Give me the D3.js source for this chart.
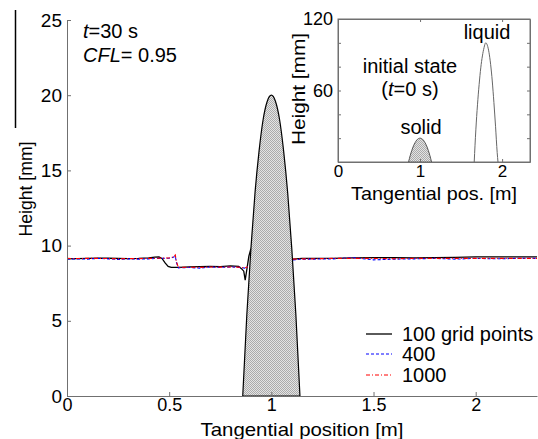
<!DOCTYPE html>
<html>
<head>
<meta charset="utf-8">
<script src="https://cdn.jsdelivr.net/npm/d3@7"></script>
<style>
  body { margin: 0; background: #fff; }
  svg { display: block; font-family: "Liberation Sans", Arial, sans-serif; }
  .axis path, .axis line { stroke: #707070; }
  .axis text { fill: #000; }
</style>
</head>
<body>
<div id="chart"></div>
<script>
// ---- data ----
var xTicks = [0, 0.5, 1, 1.5, 2];
var yTicks = [0, 5, 10, 15, 20, 25];

// free surface height [mm], left of the solid
var xLeft100 = [0, 0.05, 0.1, 0.15, 0.2, 0.25, 0.3, 0.35, 0.4, 0.43, 0.45, 0.465, 0.48, 0.495, 0.51, 0.55, 0.6, 0.65, 0.7, 0.75, 0.8, 0.84, 0.855, 0.865, 0.872, 0.88, 0.89, 0.9];
var hLeft100 = [9.12, 9.14, 9.15, 9.16, 9.16, 9.15, 9.14, 9.15, 9.18, 9.24, 9.25, 9.15, 8.85, 8.62, 8.55, 8.55, 8.58, 8.6, 8.62, 8.6, 8.65, 8.62, 8.45, 8.3, 7.7, 8.4, 9.3, 9.8];
var xLeft400 = [0, 0.05, 0.1, 0.15, 0.2, 0.25, 0.3, 0.35, 0.4, 0.45, 0.5, 0.52, 0.53, 0.535, 0.545, 0.6, 0.65, 0.7, 0.75, 0.8, 0.85, 0.87, 0.885];
var hLeft400 = [9.1, 9.12, 9.1, 9.15, 9.12, 9.08, 9.12, 9.1, 9.12, 9.15, 9.16, 9.22, 9.3, 8.9, 8.52, 8.55, 8.5, 8.58, 8.55, 8.58, 8.55, 8.5, 8.6];
var xLeft1000 = [0, 0.05, 0.1, 0.15, 0.2, 0.25, 0.3, 0.35, 0.4, 0.45, 0.5, 0.52, 0.53, 0.535, 0.545, 0.6, 0.65, 0.7, 0.75, 0.8, 0.85, 0.87, 0.885];
var hLeft1000 = [9.15, 9.14, 9.15, 9.15, 9.14, 9.12, 9.14, 9.13, 9.15, 9.16, 9.18, 9.25, 9.38, 8.95, 8.55, 8.56, 8.55, 8.58, 8.57, 8.58, 8.56, 8.52, 8.6];

// right of the solid
var xRight = [1.105, 1.15, 1.2, 1.3, 1.4, 1.5, 1.6, 1.7, 1.8, 1.9, 2.0, 2.1, 2.2, 2.3];
var hRight100 = [9.1, 9.15, 9.15, 9.15, 9.18, 9.2, 9.2, 9.18, 9.2, 9.22, 9.25, 9.25, 9.25, 9.25];
var hRight400 = [9.05, 9.1, 9.1, 9.12, 9.2, 9.05, 9.1, 9.12, 9.15, 9.1, 9.15, 9.12, 9.15, 9.15];
var hRight1000 = [9.1, 9.12, 9.12, 9.15, 9.15, 9.15, 9.13, 9.15, 9.15, 9.15, 9.15, 9.15, 9.15, 9.15];

// solid body profile
var xSolid = [0.86, 0.88, 0.9, 0.92, 0.94, 0.96, 0.98, 1.0, 1.02, 1.04, 1.06, 1.08, 1.1, 1.12, 1.14];
var hSolid = [0, 5.4, 9.8, 13.5, 16.3, 18.4, 19.6, 20, 19.6, 18.4, 16.3, 13.5, 9.8, 5.4, 0];

// initial liquid bump (inset)
var xLiquid = [1.66, 1.68, 1.7, 1.72, 1.74, 1.76, 1.78, 1.8, 1.82, 1.84, 1.86, 1.88, 1.9, 1.92, 1.94, 1.95];
var hLiquid = [0, 27, 48, 65, 79, 89, 96, 100, 98, 92, 82, 68, 50, 30, 8, 0];

var insetXTicks = [0, 1, 2];
var insetYTicks = [0, 20, 40, 60, 80, 100, 120];
var insetYLabels = [60, 120];

var legendNames = ["100 grid points", "400", "1000"];
var legendColors = ["#000", "#0000ff", "#ff0000"];
var legendDash = [null, "3,2", "4,2,1,2"];

function zipPts(xs, hs) { return xs.map(function(x, i) { return [x, hs[i]]; }); }

var W = 538, H = 439;
var svg = d3.select("#chart").append("svg")
    .attr("width", W).attr("height", H);

var defs = svg.append("defs");
var pat = defs.append("pattern").attr("id", "hatch")
    .attr("width", 2).attr("height", 2).attr("patternUnits", "userSpaceOnUse");
pat.append("rect").attr("width", 2).attr("height", 2).attr("fill", "#e4e4e4");
pat.append("rect").attr("width", 1).attr("height", 1).attr("fill", "#ababab");
pat.append("rect").attr("x", 1).attr("y", 1).attr("width", 1).attr("height", 1).attr("fill", "#ababab");

// stray vertical line at far left in the original
svg.append("line").attr("x1", 15.5).attr("x2", 15.5).attr("y1", 10).attr("y2", 128)
    .attr("stroke", "#000").attr("stroke-width", 1.5);

// ---- main plot ----
var x = d3.scaleLinear().domain([0, 2.3]).range([67, 537]);
var y = d3.scaleLinear().domain([0, 25]).range([396, 20]);

var line = d3.line().x(function(d) { return x(d[0]); }).y(function(d) { return y(d[1]); });

var series = [
  {pts: zipPts(xLeft100, hLeft100), i: 0}, {pts: zipPts(xRight, hRight100), i: 0},
  {pts: zipPts(xLeft400, hLeft400), i: 1}, {pts: zipPts(xRight, hRight400), i: 1},
  {pts: zipPts(xLeft1000, hLeft1000), i: 2}, {pts: zipPts(xRight, hRight1000), i: 2}
];
svg.append("g").selectAll("path").data(series).enter().append("path")
    .attr("d", function(d) { return line(d.pts); })
    .attr("fill", "none")
    .attr("stroke", function(d) { return legendColors[d.i]; })
    .attr("stroke-width", function(d) { return d.i === 0 ? 1.3 : 1.1; })
    .attr("stroke-dasharray", function(d) { return legendDash[d.i]; });

var area = d3.area().x(function(d) { return x(d[0]); })
    .y0(y(0)).y1(function(d) { return y(d[1]); })
    .curve(d3.curveMonotoneX);
svg.append("path").datum(zipPts(xSolid, hSolid))
    .attr("d", area)
    .attr("fill", "url(#hatch)")
    .attr("stroke", "#000").attr("stroke-width", 1.2);

svg.append("g").attr("class", "axis")
    .attr("transform", "translate(0," + y(0) + ")")
    .style("font-size", "18px")
    .call(d3.axisBottom(x).tickValues(xTicks).tickSizeInner(-4).tickSizeOuter(0).tickPadding(2)
      .tickFormat(d3.format("")));

svg.append("g").attr("class", "axis")
    .attr("transform", "translate(" + x(0) + ",0)")
    .style("font-size", "19px")
    .call(d3.axisLeft(y).tickValues(yTicks).tickSizeInner(-4).tickSizeOuter(0).tickPadding(5));

svg.selectAll(".axis").attr("font-family", null);

svg.append("text").attr("x", 302).attr("y", 436)
    .attr("text-anchor", "middle").style("font-size", "18.5px")
    .attr("textLength", 203).attr("lengthAdjust", "spacingAndGlyphs")
    .text("Tangential position [m]");
svg.append("text")
    .attr("transform", "translate(32,189) rotate(-90)")
    .attr("text-anchor", "middle").style("font-size", "18px")
    .attr("textLength", 95).attr("lengthAdjust", "spacingAndGlyphs")
    .text("Height [mm]");

var ann = svg.append("text").attr("x", 83).attr("y", 38).style("font-size", "20px");
ann.append("tspan").style("font-style", "italic").text("t");
ann.append("tspan").text("=30 s");
var ann2 = svg.append("text").attr("x", 83).attr("y", 62).style("font-size", "20px");
ann2.append("tspan").style("font-style", "italic").text("CFL");
ann2.append("tspan").text("= 0.95");

// legend
var leg = svg.append("g").selectAll("g").data(legendNames).enter().append("g")
    .attr("transform", function(d, i) { return "translate(366," + [334, 354, 375][i] + ")"; });
leg.append("line").attr("x1", 0).attr("x2", 26)
    .attr("stroke", function(d, i) { return legendColors[i]; })
    .attr("stroke-width", function(d, i) { return i === 0 ? 1.3 : 1.1; })
    .attr("stroke-dasharray", function(d, i) { return legendDash[i]; });
leg.append("text").attr("x", 36).attr("y", 7).style("font-size", "20px")
    .text(function(d) { return d; });

// ---- inset ----
var ix = d3.scaleLinear().domain([0, 2.34]).range([338, 530]);
var iy = d3.scaleLinear().domain([0, 120]).range([162, 19]);

svg.append("rect").attr("x", 338).attr("y", 19).attr("width", 192).attr("height", 143)
    .attr("fill", "#fff").attr("stroke", "#707070");

var iarea = d3.area().x(function(d) { return ix(d[0]); })
    .y0(iy(0)).y1(function(d) { return iy(d[1]); })
    .curve(d3.curveMonotoneX);
svg.append("path").datum(zipPts(xSolid, hSolid))
    .attr("d", iarea).attr("fill", "url(#hatch)")
    .attr("stroke", "#555").attr("stroke-width", 1);
var iline = d3.line().x(function(d) { return ix(d[0]); }).y(function(d) { return iy(d[1]); })
    .curve(d3.curveMonotoneX);
svg.append("path").datum(zipPts(xLiquid, hLiquid))
    .attr("d", iline).attr("fill", "none")
    .attr("stroke", "#666").attr("stroke-width", 1);

svg.append("g").attr("class", "axis")
    .attr("transform", "translate(0," + iy(0) + ")")
    .style("font-size", "17px")
    .call(d3.axisBottom(ix).tickValues(insetXTicks).tickSizeInner(-3).tickSizeOuter(0).tickPadding(3)
      .tickFormat(d3.format("d")));
svg.append("g").attr("class", "axis")
    .attr("transform", "translate(0," + iy(120) + ")")
    .call(d3.axisTop(ix).tickValues(insetXTicks).tickSizeInner(-3).tickSizeOuter(0).tickFormat(""));
svg.append("g").attr("class", "axis")
    .attr("transform", "translate(" + ix(0) + ",0)")
    .style("font-size", "18px")
    .call(d3.axisLeft(iy).tickValues(insetYTicks).tickSizeInner(-3).tickSizeOuter(0).tickPadding(5)
      .tickFormat(function(d) { return insetYLabels.indexOf(d) >= 0 ? d : ""; }));
svg.append("g").attr("class", "axis")
    .attr("transform", "translate(530,0)")
    .call(d3.axisRight(iy).tickValues(insetYTicks).tickSizeInner(-3).tickSizeOuter(0).tickFormat(""));

svg.selectAll(".axis").attr("font-family", null);

svg.append("text").attr("x", 434).attr("y", 200)
    .attr("text-anchor", "middle").style("font-size", "19px")
    .attr("textLength", 166).attr("lengthAdjust", "spacingAndGlyphs")
    .text("Tangential pos. [m]");
svg.append("text")
    .attr("transform", "translate(305,89) rotate(-90)")
    .attr("text-anchor", "middle").style("font-size", "19px")
    .attr("textLength", 112).attr("lengthAdjust", "spacingAndGlyphs")
    .text("Height [mm]");
svg.append("text").attr("x", 487).attr("y", 39).attr("text-anchor", "middle")
    .style("font-size", "20px").text("liquid");
svg.append("text").attr("x", 410).attr("y", 73).attr("text-anchor", "middle")
    .style("font-size", "20px").text("initial state");
var st = svg.append("text").attr("x", 410).attr("y", 96).attr("text-anchor", "middle")
    .style("font-size", "20px");
st.append("tspan").text("(");
st.append("tspan").style("font-style", "italic").text("t");
st.append("tspan").text("=0 s)");
svg.append("text").attr("x", 421).attr("y", 134).attr("text-anchor", "middle")
    .style("font-size", "20px").text("solid");
</script>
</body>
</html>
